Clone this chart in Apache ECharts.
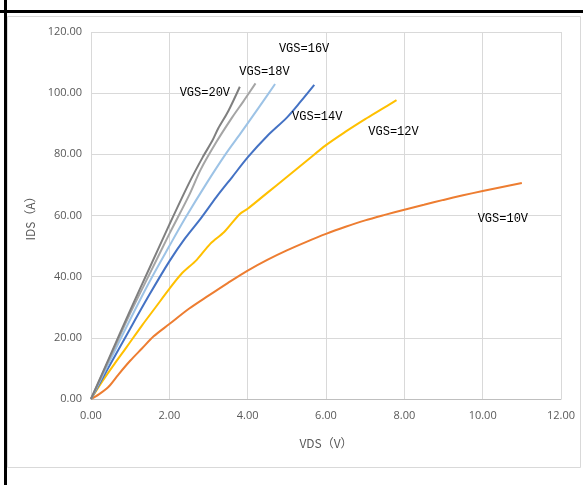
<!DOCTYPE html>
<html>
<head>
<meta charset="utf-8">
<script src="https://cdn.jsdelivr.net/npm/echarts@6/dist/echarts.min.js"></script>
<style>
  html, body { margin: 0; padding: 0; background: #ffffff; }
  #chart { width: 583px; height: 485px; }
</style>
</head>
<body>
<div id="chart"></div>
<script>
// Output characteristics: drain current IDS (A) versus drain-source voltage VDS (V)
// for several gate-source voltages.
const xTicks = [0, 2, 4, 6, 8, 10, 12];
const yTicks = [0, 20, 40, 60, 80, 100, 120];

const vgs10 = [[0,0],[0.2,1.5],[0.45,4],[0.7,8],[1.0,12.5],[1.3,16.5],[1.6,20.5],[2.0,24.5],[2.5,29.5],[3.0,33.8],[3.5,38],[4.0,42],[4.5,45.5],[5.0,48.6],[5.5,51.4],[6.0,54],[6.5,56.3],[7.0,58.4],[7.5,60.2],[8.0,61.9],[8.5,63.5],[9.0,65.1],[9.5,66.6],[10.0,68],[10.5,69.3],[11.0,70.6]];
const vgs12 = [[0,0],[0.3,6],[0.6,11.5],[0.9,16.8],[1.3,24],[1.65,30],[2.0,36],[2.3,40.8],[2.7,45.5],[3.05,50.8],[3.4,54.6],[3.8,60.5],[4.0,62.2],[4.5,67.4],[5.0,72.6],[5.5,77.8],[6.0,83],[6.5,87.4],[7.0,91.5],[7.4,94.6],[7.8,97.7]];
const vgs14 = [[0,0],[0.5,11.5],[1.0,23],[1.5,34.3],[2.0,45],[2.4,52.5],[2.8,59],[3.2,66],[3.6,72.5],[4.0,79],[4.5,86],[5.0,92],[5.35,97.2],[5.7,102.7]];
const vgs16 = [[0,0],[0.5,13],[1.0,26],[1.5,38.5],[2.0,50],[2.4,59],[2.95,70.5],[3.45,80.3],[3.85,87.4],[4.3,95.6],[4.7,103]];
const vgs18 = [[0,0],[0.5,14],[1.0,28],[1.5,41],[2.0,54],[2.5,66.5],[2.8,75],[3.2,84],[3.6,92],[3.9,97.5],[4.2,103.2]];
const vgs20 = [[0,0],[0.5,14.5],[1.0,29],[1.5,43],[2.0,57],[2.5,70.5],[2.85,79],[3.1,84.5],[3.25,88.5],[3.5,94],[3.8,102.1]];

const seriesNames = ['VGS=10V', 'VGS=12V', 'VGS=14V', 'VGS=16V', 'VGS=18V', 'VGS=20V'];
const seriesData = [vgs10, vgs12, vgs14, vgs16, vgs18, vgs20];
const seriesColors = ['#ED7D31', '#FFC000', '#4472C4', '#9DC3E6', '#A5A5A5', '#7F7F7F'];
// label placement relative to each curve's end point, in pixels
const labelOffsets = [[-19, 36], [-3, 32], [3, 32], [29, -35], [9, -12], [-35, 6]];

const chart = echarts.init(document.getElementById('chart'), null, { renderer: 'canvas' });

const axisTextColor = '#595959';
const gridColor = '#D9D9D9';

const series = seriesData.map((data, i) => {
  const last = data[data.length - 1];
  return {
    name: seriesNames[i],
    type: 'line',
    data: data,
    smooth: 0.3,
    showSymbol: false,
    symbol: 'none',
    z: 2 + i,
    lineStyle: { color: seriesColors[i], width: 2 },
    itemStyle: { color: seriesColors[i] },
    markPoint: {
      symbol: 'circle',
      symbolSize: 0,
      silent: true,
      data: [{ coord: last, name: seriesNames[i] }],
      label: {
        show: true,
        position: 'inside',
        formatter: seriesNames[i],
        offset: labelOffsets[i],
        color: '#000000',
        fontFamily: '"Liberation Mono", monospace',
        fontSize: 12,
        align: 'center',
        verticalAlign: 'middle'
      }
    }
  };
});

chart.setOption({
  animation: false,
  backgroundColor: '#ffffff',
  grid: { left: 91, right: 22, top: 32, bottom: 86, containLabel: false },
  xAxis: {
    type: 'value',
    min: xTicks[0],
    max: xTicks[xTicks.length - 1],
    interval: xTicks[1] - xTicks[0],
    name: 'VDS（V）',
    nameLocation: 'middle',
    nameGap: 38,
    nameTextStyle: { color: axisTextColor, fontSize: 12, fontFamily: '"Noto Sans CJK SC", "Noto Sans", sans-serif' },
    axisLine: { show: true, lineStyle: { color: '#BFBFBF', width: 1 } },
    axisTick: { show: false },
    axisLabel: {
      color: axisTextColor, fontSize: 11, margin: 11,
      fontFamily: '"Open Sans", "Noto Sans", sans-serif',
      formatter: v => v.toFixed(2)
    },
    splitLine: { show: true, lineStyle: { color: gridColor, width: 1 } }
  },
  yAxis: {
    type: 'value',
    min: yTicks[0],
    max: yTicks[yTicks.length - 1],
    interval: yTicks[1] - yTicks[0],
    name: 'IDS（A）',
    nameLocation: 'middle',
    nameGap: 52,
    nameRotate: 90,
    nameTextStyle: { color: axisTextColor, fontSize: 12, fontFamily: '"Noto Sans CJK SC", "Noto Sans", sans-serif' },
    axisLine: { show: false },
    axisTick: { show: false },
    axisLabel: {
      color: axisTextColor, fontSize: 11, margin: 9,
      fontFamily: '"Open Sans", "Noto Sans", sans-serif',
      formatter: v => v.toFixed(2)
    },
    splitLine: { show: true, lineStyle: { color: gridColor, width: 1 } }
  },
  graphic: [
    // light outer frame of the chart area
    { type: 'rect', shape: { x: 7.5, y: 16.5, width: 573, height: 451 },
      style: { fill: 'none', stroke: '#D9D9D9', lineWidth: 1 }, z: -1, silent: true },
    // dark page rules around the figure
    { type: 'rect', shape: { x: 0, y: 10, width: 583, height: 3 },
      style: { fill: '#000000' }, silent: true },
    { type: 'rect', shape: { x: 4, y: 0, width: 3, height: 485 },
      style: { fill: '#000000' }, silent: true }
  ],
  series: series
});
</script>
</body>
</html>
